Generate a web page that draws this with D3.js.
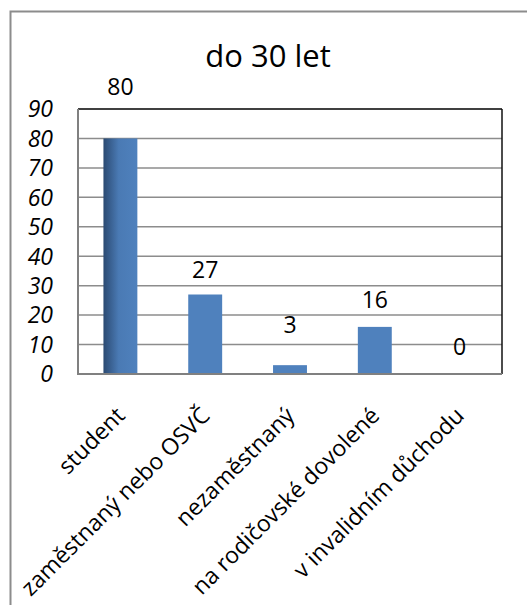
<!DOCTYPE html>
<html>
<head>
<meta charset="utf-8">
<script src="https://cdnjs.cloudflare.com/ajax/libs/d3/7.8.5/d3.min.js"></script>
<style>
  body { margin: 0; background: #fff; }
  text { font-family: 'Open Sans', sans-serif; fill: #000; }
</style>
</head>
<body>
<svg id="chart" width="527" height="605"></svg>
<script>
const title = 'do 30 let';
const categories = ['student', 'zaměstnaný nebo OSVČ', 'nezaměstnaný', 'na rodičovské dovolené', 'v invalidním důchodu'];
const values = [80, 27, 3, 16, 0];
const yTicks = [0, 10, 20, 30, 40, 50, 60, 70, 80, 90];

// label offsets above bar top (labels were moved by hand in the original)
const labelLift = [43, 17, 32, 19, 19];

const svg = d3.select('#chart');
const plot = { left: 78, right: 502, top: 109, bottom: 374 };

// outer frame
svg.append('rect')
    .attr('x', 10.5).attr('y', 11.5)
    .attr('width', 600).attr('height', 700)
    .attr('fill', 'none')
    .attr('stroke', '#8c8c8c')
    .attr('stroke-width', 2);

const x = d3.scaleBand()
    .domain(categories)
    .range([plot.left, plot.right])
    .paddingInner(0.6)
    .paddingOuter(0.3);

const y = d3.scaleLinear()
    .domain([0, 90])
    .range([plot.bottom, plot.top]);

const defs = svg.append('defs');
const grad = defs.append('linearGradient')
    .attr('id', 'barGrad')
    .attr('x1', '0%').attr('x2', '100%')
    .attr('y1', '0%').attr('y2', '0%');
grad.append('stop').attr('offset', '0%').attr('stop-color', '#2b4a72');
grad.append('stop').attr('offset', '45%').attr('stop-color', '#4a7ab4');
grad.append('stop').attr('offset', '100%').attr('stop-color', '#4f81bd');

// gridlines
svg.append('g')
  .selectAll('line')
  .data(yTicks.filter(t => t > 0 && t < 90))
  .enter()
  .append('line')
    .attr('x1', plot.left).attr('x2', plot.right)
    .attr('y1', d => y(d)).attr('y2', d => y(d))
    .attr('stroke', '#8c8c8c')
    .attr('stroke-width', 1.5);

// plot frame
svg.append('line')
    .attr('x1', plot.left).attr('x2', plot.right)
    .attr('y1', plot.top).attr('y2', plot.top)
    .attr('stroke', '#000').attr('stroke-width', 1.5);
svg.append('line')
    .attr('x1', plot.right).attr('x2', plot.right)
    .attr('y1', plot.top).attr('y2', plot.bottom)
    .attr('stroke', '#111').attr('stroke-width', 1.5);

// bars
svg.append('g')
  .selectAll('rect')
  .data(values)
  .enter()
  .append('rect')
    .attr('x', (d, i) => x(categories[i]))
    .attr('y', d => y(d))
    .attr('width', x.bandwidth())
    .attr('height', d => plot.bottom - y(d))
    .attr('fill', (d, i) => i === 0 ? 'url(#barGrad)' : '#4f81bd');

// axes lines (left, bottom)
svg.append('line')
    .attr('x1', plot.left).attr('x2', plot.left)
    .attr('y1', plot.top).attr('y2', plot.bottom)
    .attr('stroke', '#808080').attr('stroke-width', 2);
svg.append('line')
    .attr('x1', plot.left - 1).attr('x2', plot.right)
    .attr('y1', plot.bottom).attr('y2', plot.bottom)
    .attr('stroke', '#808080').attr('stroke-width', 2);

// y tick labels
svg.append('g')
  .selectAll('text')
  .data(yTicks)
  .enter()
  .append('text')
    .attr('x', 53)
    .attr('y', d => y(d))
    .attr('dy', '0.36em')
    .attr('text-anchor', 'end')
    .style('font-size', '23px')
    .style('font-style', 'italic')
    .text(d => d);

// value labels
svg.append('g')
  .selectAll('text')
  .data(values)
  .enter()
  .append('text')
    .attr('x', (d, i) => x(categories[i]) + x.bandwidth() / 2)
    .attr('y', (d, i) => y(d) - labelLift[i])
    .attr('text-anchor', 'middle')
    .style('font-size', '23px')
    .text(d => d);

// category labels
svg.append('g')
  .selectAll('text')
  .data(categories)
  .enter()
  .append('text')
    .attr('text-anchor', 'end')
    .attr('transform', d => `translate(${x(d) + x.bandwidth() / 2 + 6},417) rotate(-45)`)
    .style('font-size', '23px')
    .text(d => d);

// title
svg.append('text')
    .attr('x', 268)
    .attr('y', 67)
    .attr('text-anchor', 'middle')
    .style('font-size', '31px')
    .text(title);
</script>
</body>
</html>
